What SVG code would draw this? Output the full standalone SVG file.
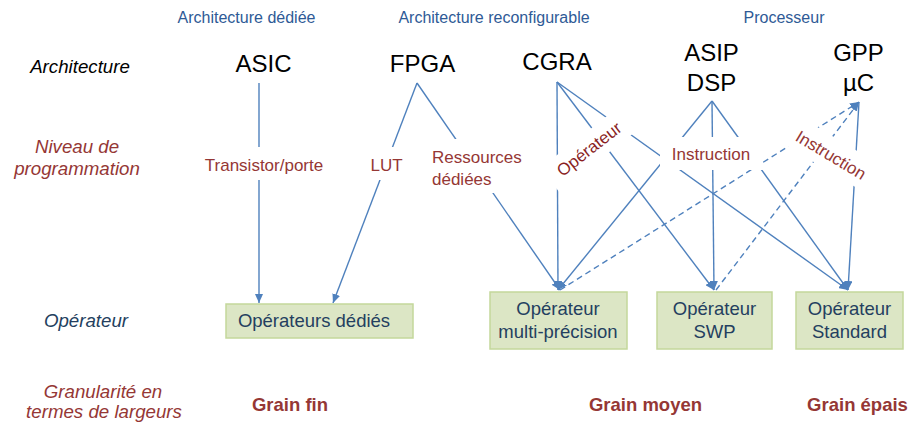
<svg xmlns="http://www.w3.org/2000/svg" width="911" height="426" viewBox="0 0 911 426">
<style>
text{font-family:"Liberation Sans",Arial,sans-serif}
.top{font-size:16px;fill:#2E5A96;text-anchor:middle}
.arch{font-size:24px;fill:#000;text-anchor:middle}
.side{font-size:18.7px;font-style:italic;text-anchor:middle}
.lbl{font-size:17px;fill:#953735}
.box{fill:#DCE6C5;stroke:#C4D79B;stroke-width:1.5}
.btxt{font-size:18.5px;fill:#243F60;text-anchor:middle}
.grain{font-size:18.5px;font-weight:bold;fill:#953735;text-anchor:middle}
.ln{stroke:#4F81BD;stroke-width:1.4;fill:none}
.dash{stroke:#4F81BD;stroke-width:1.4;fill:none;stroke-dasharray:6 4}
.bg{fill:#fff}
</style>
<defs>
<marker id="ah" markerUnits="userSpaceOnUse" markerWidth="10" markerHeight="8" refX="9" refY="4" orient="auto">
<path d="M0,0 L9,4 L0,8 z" fill="#4F81BD"/>
</marker>
</defs>

<g id="headers">
<text class="top" x="246.5" y="23">Architecture dédiée</text>
<text class="top" x="494" y="23">Architecture reconfigurable</text>
<text class="top" x="784" y="23">Processeur</text>
</g>

<g id="row-labels">
<text class="side" x="80" y="73" fill="#000">Architecture</text>
<text class="side" x="77" y="153" fill="#953735">Niveau de</text>
<text class="side" x="77" y="175" fill="#953735">programmation</text>
<text class="side" x="86" y="327" fill="#243F60">Opérateur</text>
<text class="side" x="103" y="398" fill="#953735">Granularité en</text>
<text class="side" x="104" y="418" fill="#953735">termes de largeurs</text>
</g>

<g id="asic"><text class="arch" x="263.5" y="72">ASIC</text></g>
<g id="fpga"><text class="arch" x="422.5" y="72">FPGA</text></g>
<g id="cgra"><text class="arch" x="557" y="70">CGRA</text></g>
<g id="asip"><text class="arch" x="711.5" y="61">ASIP</text><text class="arch" x="711.5" y="91">DSP</text></g>
<g id="gpp"><text class="arch" x="858.5" y="61">GPP</text><text class="arch" x="858.5" y="91">µC</text></g>

<g id="connectors">
<line class="ln" x1="259" y1="83" x2="259" y2="303" marker-end="url(#ah)"/>
<line class="ln" x1="417" y1="83" x2="333" y2="303" marker-end="url(#ah)"/>
<line class="ln" x1="417" y1="83" x2="560" y2="290" marker-end="url(#ah)"/>
<line class="ln" x1="557" y1="82" x2="558" y2="290" marker-end="url(#ah)"/>
<line class="ln" x1="557" y1="82" x2="714" y2="290" marker-end="url(#ah)"/>
<line class="ln" x1="557" y1="82" x2="848" y2="290" marker-end="url(#ah)"/>
<line class="ln" x1="712" y1="101" x2="558" y2="290" marker-end="url(#ah)"/>
<line class="ln" x1="712" y1="101" x2="714" y2="290" marker-end="url(#ah)"/>
<line class="ln" x1="712" y1="101" x2="848" y2="290" marker-end="url(#ah)"/>
<line class="ln" x1="859" y1="102" x2="848" y2="290" marker-end="url(#ah)"/>
<line class="dash" x1="560" y1="290" x2="859" y2="102" marker-end="url(#ah)"/>
<line class="dash" x1="716" y1="290" x2="859" y2="102" marker-end="url(#ah)"/>
</g>

<g id="edge-labels">
<rect class="bg" x="198" y="147" width="132" height="33"/>
<text class="lbl" x="264" y="171" text-anchor="middle">Transistor/porte</text>
<rect class="bg" x="368" y="147" width="37" height="33"/>
<text class="lbl" x="386.5" y="171" text-anchor="middle">LUT</text>
<rect class="bg" x="428" y="139" width="96" height="54"/>
<text class="lbl" x="432" y="163">Ressources</text>
<text class="lbl" x="432" y="185">dédiées</text>
<g transform="translate(589,149) rotate(-38)">
<rect class="bg" x="-50" y="-15" width="100" height="30"/>
<text class="lbl" x="0" y="6" text-anchor="middle" style="fill:#8A1F1F">Opérateur</text>
</g>
<rect class="bg" x="660" y="137" width="103" height="33"/>
<text class="lbl" x="711" y="160" text-anchor="middle">Instruction</text>
<g transform="translate(831,155) rotate(31)">
<rect class="bg" x="-50" y="-17" width="100" height="32"/>
<text class="lbl" x="0" y="6" text-anchor="middle">Instruction</text>
</g>
</g>

<g id="op-dedies">
<rect class="box" x="226" y="304" width="187" height="34"/>
<text class="btxt" x="314" y="327">Opérateurs dédiés</text>
</g>
<g id="op-multi">
<rect class="box" x="490" y="292" width="137" height="57"/>
<text class="btxt" x="558" y="315">Opérateur</text>
<text class="btxt" x="558" y="338">multi-précision</text>
</g>
<g id="op-swp">
<rect class="box" x="657" y="292" width="115" height="57"/>
<text class="btxt" x="714.5" y="315">Opérateur</text>
<text class="btxt" x="714.5" y="338">SWP</text>
</g>
<g id="op-standard">
<rect class="box" x="796" y="292" width="107" height="57"/>
<text class="btxt" x="849.5" y="315">Opérateur</text>
<text class="btxt" x="849.5" y="338">Standard</text>
</g>

<g id="grains">
<text class="grain" x="290" y="411">Grain fin</text>
<text class="grain" x="645.5" y="411">Grain moyen</text>
<text class="grain" x="857.5" y="411">Grain épais</text>
</g>
</svg>
